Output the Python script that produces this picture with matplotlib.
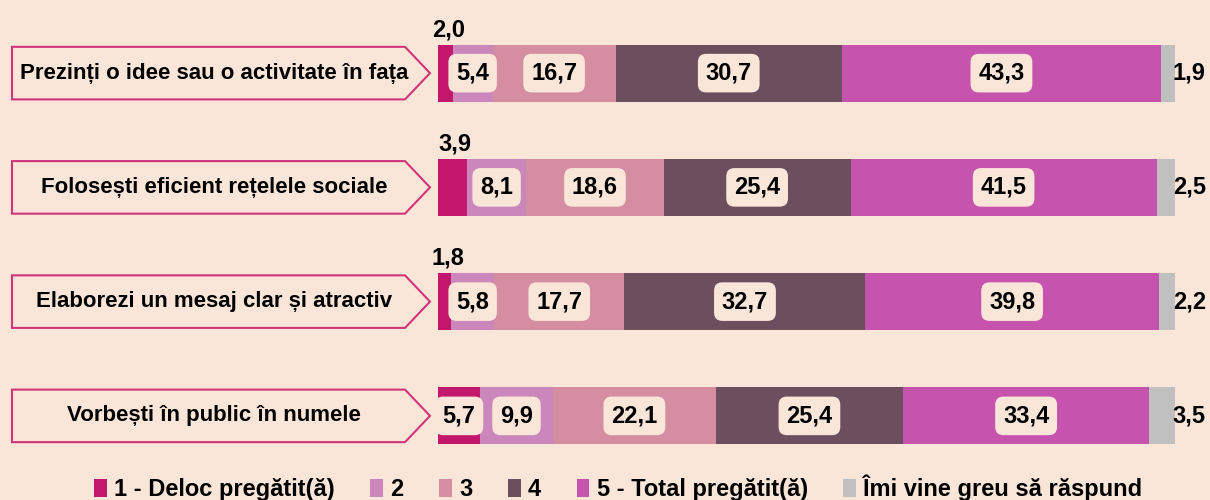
import matplotlib
matplotlib.use("Agg")
import matplotlib.pyplot as plt
from matplotlib.patches import Polygon, Patch
from matplotlib.transforms import blended_transform_factory
from matplotlib import font_manager

# ============================================================
# Date
# ============================================================
categorii = [
    "Prezinți o idee sau o activitate în fața",
    "Folosești eficient rețelele sociale",
    "Elaborezi un mesaj clar și atractiv",
    "Vorbești în public în numele",
]
serii = ["1 - Deloc pregătit(ă)", "2", "3", "4", "5 - Total pregătit(ă)", "Îmi vine greu să răspund"]
val_1 = [2.0, 3.9, 1.8, 5.7]
val_2 = [5.4, 8.1, 5.8, 9.9]
val_3 = [16.7, 18.6, 17.7, 22.1]
val_4 = [30.7, 25.4, 32.7, 25.4]
val_5 = [43.3, 41.5, 39.8, 33.4]
val_ns = [1.9, 2.5, 2.2, 3.5]

culori = ["#C2176C", "#CB86BC", "#D58EA1", "#6C4F5F", "#C654AF", "#C0C0C0"]
FUNDAL = "#FAE6D9"

names = {f.name for f in font_manager.fontManager.ttflist}
FONT = "Liberation Sans" if "Liberation Sans" in names else "DejaVu Sans"
FONT_LEG = "Liberation Sans Narrow" if "Liberation Sans Narrow" in names else FONT

fig = plt.figure(figsize=(12.1, 5.0), dpi=100, facecolor=FUNDAL)
# zona barelor: x de la 438 px la 1175 px
ax = fig.add_axes([438 / 1210, 27 / 500, (1175 - 438) / 1210, 457 / 500])
ax.set_facecolor(FUNDAL)
ax.set_xlim(0, 100)
ax.set_ylim(3.5, -0.5)
ax.axis("off")

serii_val = [val_1, val_2, val_3, val_4, val_5, val_ns]
h = 0.5
stanga = [0.0] * len(categorii)
box = dict(boxstyle="round,pad=0.33,rounding_size=0.35", fc=FUNDAL, ec="none")

for k, vals in enumerate(serii_val):
    ax.barh(range(len(categorii)), vals, left=stanga, height=h, color=culori[k], edgecolor="none")
    for i, v in enumerate(vals):
        cx = stanga[i] + v / 2
        txt = f"{v:.1f}".replace(".", ",")
        if k == 0 and v < 4:
            # segment mic: eticheta deasupra barei
            ax.text(cx + 0.4, i - h / 2 - 0.03, txt, ha="center", va="bottom",
                    fontsize=17, fontweight="bold", family=FONT)
        elif k == 5:
            ax.text(99.7, i, txt, ha="left", va="center",
                    fontsize=17, fontweight="bold", family=FONT)
        else:
            ax.text(cx, i, txt, ha="center", va="center", fontsize=17,
                    fontweight="bold", family=FONT, bbox=box)
    stanga = [s + v for s, v in zip(stanga, vals)]

# etichetele categoriilor in casete-sageata
tr = blended_transform_factory(fig.transFigure, ax.transData)
x0, x1, xt = 12 / 1210, 405 / 1210, 430 / 1210
for i, cat in enumerate(categorii):
    y0, y1 = i - 0.23, i + 0.23
    poly = Polygon([(x0, y0), (x1, y0), (xt, i), (x1, y1), (x0, y1)], closed=True,
                   transform=tr, fc=FUNDAL, ec="#D0357A", lw=1.5, clip_on=False)
    ax.add_patch(poly)
    ax.text(214 / 1210, i, cat, transform=tr, ha="center", va="center",
            fontsize=16, fontweight="bold", family=FONT, clip_on=False)

handles = [Patch(facecolor=c, edgecolor="none") for c in culori]
fig.legend(handles, serii, loc="center", bbox_to_anchor=(0.511, 0.024), ncol=6,
           frameon=False, handlelength=0.55, handleheight=0.8, handletextpad=0.3,
           columnspacing=1.5, prop=dict(family=FONT_LEG, weight="bold", size=17))

fig.savefig("out.png", dpi=100, facecolor=FUNDAL)
